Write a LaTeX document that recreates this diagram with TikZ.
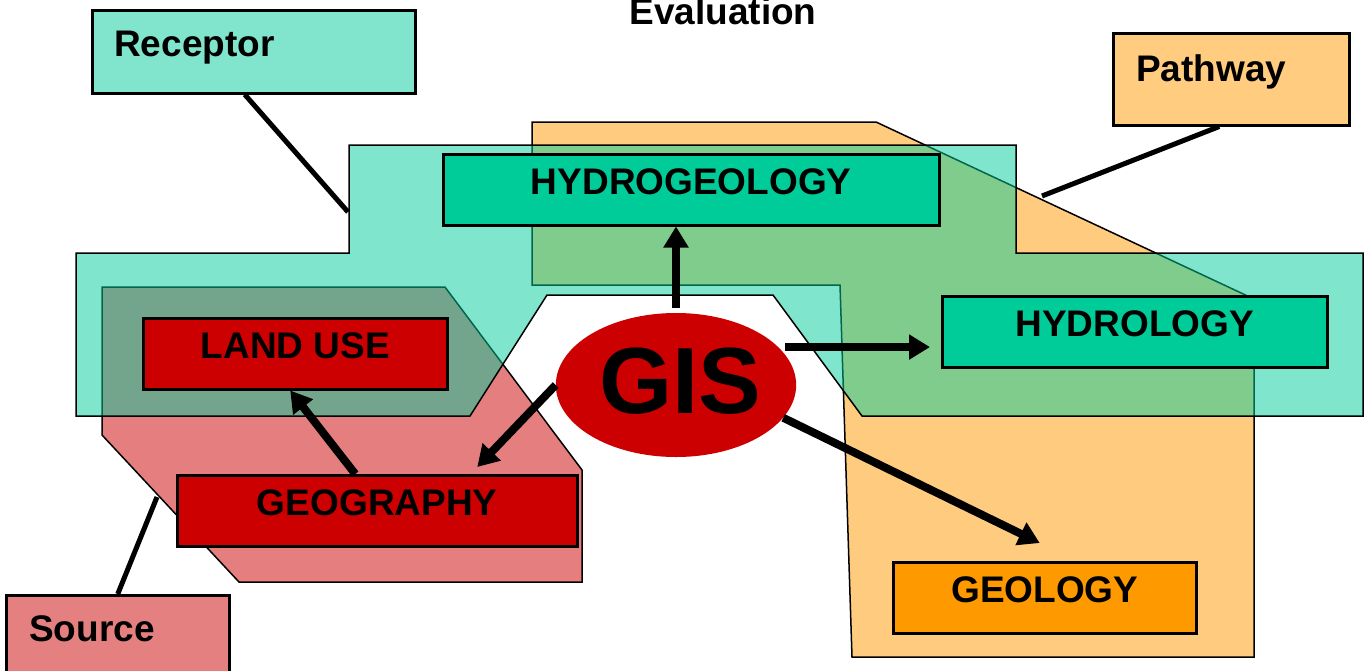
\documentclass[tikz,border=0pt]{standalone}
\usepackage{fontspec}
\setmainfont{Liberation Sans}
\usetikzlibrary{arrows.meta,shapes.geometric}
\definecolor{tealc}{RGB}{0,204,153}
\definecolor{redc}{RGB}{204,0,0}
\definecolor{orangec}{RGB}{255,153,0}
\definecolor{ltealc}{RGB}{128,229,204}
\definecolor{lredc}{RGB}{229,128,128}
\definecolor{lorangec}{RGB}{255,204,128}
\begin{document}
\begin{tikzpicture}[x=1pt,y=-1pt,
  region/.style={draw=black,line width=1.5pt,fill opacity=0.5},
  box/.style={draw=black,line width=2.5pt,inner sep=0pt,text height=40pt,text depth=31pt,
    font=\fontsize{37}{40}\selectfont\bfseries,anchor=north west},
  tag/.style={draw=black,line width=2.5pt,inner ysep=0pt,align=left,
    font=\fontsize{37}{40}\selectfont\bfseries,anchor=north west},
  arr/.style={line width=8pt,-{Triangle[length=21pt,width=24pt]}},
  link/.style={line width=5pt}]
\useasboundingbox (0,0) rectangle (1369,670);

% regions
\path[region,fill=redc] (102,287) -- (445,287) -- (582,470) -- (582,582) -- (239,582) -- (102,435) -- cycle;
\path[region,fill=orangec] (532,122) -- (876,122) -- (1254,299) -- (1254,657) -- (852,657) -- (840,285) -- (532,285) -- cycle;
\path[region,fill=tealc] (76,253) -- (349,253) -- (349,145) -- (1016,145) -- (1016,253) -- (1363,253) -- (1363,416) -- (862,416) -- (773,295) -- (547,295) -- (470,416) -- (76,416) -- cycle;

% title
\node[font=\fontsize{37}{40}\selectfont\bfseries,anchor=base,inner sep=0pt] (evaltitle) at (723,24) {Evaluation};

% tag boxes
\node[tag,fill=ltealc,text width=279pt,inner xsep=22pt,text height=46pt,text depth=37pt] (rec) at (91,9) {Receptor};
\node[tag,fill=lorangec,text width=190pt,inner xsep=23pt,text height=48pt,text depth=44pt] (pw) at (1112,32) {Pathway};
\node[tag,fill=lredc,text width=177pt,inner xsep=23pt,text height=46pt,text depth=36pt] (src) at (5,594) {Source};

\coordinate (recpt) at (348,212);
\coordinate (pwpt) at (1042,196);
\coordinate (srcpt) at (157,497);
\draw[link] ([xshift=-9pt]rec.south) -- (recpt);
\draw[link] ([xshift=-12pt]pw.south) -- (pwpt);
\draw[link] (src.north) -- (srcpt);

% topic boxes
\node[box,fill=tealc,minimum width=496pt] (hgeo) at (442,153) {HYDROGEOLOGY};
\node[box,fill=tealc,minimum width=385pt] (hyd) at (941,295) {HYDROLOGY};
\node[box,fill=redc,minimum width=304pt] (land) at (142,317) {LAND USE};
\node[box,fill=redc,minimum width=400pt] (geo) at (176,474) {GEOGRAPHY};
\node[box,fill=orangec,minimum width=303pt] (geol) at (892,561) {GEOLOGY};

% GIS
\node[ellipse,fill=redc,minimum width=240pt,minimum height=144pt,inner sep=0pt,
  text height=70pt,text depth=14pt,font=\fontsize{94}{100}\selectfont\bfseries] (gis) at (676,385) {\hspace*{8pt}GIS};

% arrows
\draw[arr] ([yshift=5pt]gis.north) -- (gis.north |- hgeo.south);
\draw[arr,shorten >=11pt] ([xshift=5pt,yshift=2pt]gis.19) -- ([yshift=2pt]gis.19 -| hyd.west);
\draw[arr] (gis.west) -- ([xshift=100pt,yshift=7pt]geo.north);
\draw[arr] ([xshift=-22pt]geo.north) -- ([xshift=-5pt]land.south);
\draw[arr] (gis.343) -- ([xshift=-5pt,yshift=18pt]geol.north);
\end{tikzpicture}
\end{document}
